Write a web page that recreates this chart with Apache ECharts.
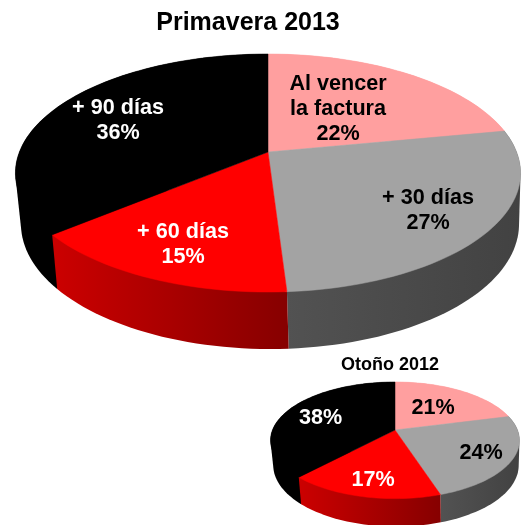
<!DOCTYPE html>
<html>
<head>
<meta charset="utf-8">
<script src="https://cdn.jsdelivr.net/npm/echarts@6/dist/echarts.min.js"></script>
<style>
	html, body { margin: 0; padding: 0; background: #fff; }
	#chart { width: 524px; height: 525px; }
</style>
</head>
<body>
<div id="chart"></div>
<script>
// slices run clockwise from 12 o'clock
const categories = [ 'Al vencer\nla factura', '+ 30 días', '+ 60 días', '+ 90 días' ];
const primavera2013 = [ 22, 27, 15, 36 ];
const otono2012 = [ 21, 24, 17, 38 ];

const topColors = [ '#ff9f9f', '#a3a3a3', '#ff0000', '#000000' ];
const wallColors = [ [ '#ff9f9f', '#ff9f9f' ], [ '#525252', '#424242' ], [ '#cc0000', '#860000' ], [ '#000000', '#000000' ] ];
const textColors = [ '#000000', '#000000', '#ffffff', '#ffffff' ];

const FONT = '"Liberation Sans", Arial, sans-serif';
const TILT = 0.1765; // perspective of the pie disc

const bigPie = {
	cx: 268, cy: 152, rx: 248.6, ry: 115.3, scale: 1,
	labelAt: [ [ 338, 109 ], [ 428, 211 ], [ 183, 245 ], [ 118, 121 ] ]
};
const smallPie = {
	cx: 395, cy: 430, rx: 122.5, ry: 56.5, scale: 0.49,
	labelAt: [ [ 433, 408 ], [ 481, 453 ], [ 373, 480 ], [ 320.5, 418 ] ]
};

// point on the rim, share in percent; lower = true gives the bottom edge of the wall
function rim( pie, share, lower ) {
	const a = share / 100 * Math.PI * 2;
	const s = 1 / ( 1 + TILT * Math.cos( a ) );
	const fx = lower ? 0.986 : 1;
	const fy = lower ? 1.05 : 1;
	const shift = lower ? 2 * pie.scale : 0;
	const drop = lower ? 50 * pie.scale : 0;
	return [
		pie.cx + shift + pie.rx * fx * Math.sin( a ) * s,
		pie.cy + drop - pie.ry * fy * Math.cos( a ) * s
	];
}

function arc( pie, from, to, lower ) {
	const pts = [];
	const steps = Math.ceil( ( to - from ) * 2 );
	for ( let i = 0; i <= steps; i++ ) {
		pts.push( rim( pie, from + ( to - from ) * i / steps, lower ) );
	}
	return pts;
}

// the wall is the sweep from top rim to bottom rim, so its outline has the straight sides
function hull( points ) {
	const sorted = points.slice().sort( ( a, b ) => a[0] - b[0] || a[1] - b[1] );
	const cross = ( o, a, b ) => ( a[0] - o[0] ) * ( b[1] - o[1] ) - ( a[1] - o[1] ) * ( b[0] - o[0] );
	const half = list => {
		const out = [];
		for ( const p of list ) {
			while ( out.length > 1 && cross( out[out.length - 2], out[out.length - 1], p ) <= 0 ) {
				out.pop();
			}
			out.push( p );
		}
		out.pop();
		return out;
	};
	return half( sorted ).concat( half( sorted.slice().reverse() ) );
}

function pieSeries( name, values, pie, labels ) {
	return {
		name,
		type: 'custom',
		coordinateSystem: 'none',
		silent: true,
		data: values,
		renderItem( params, api ) {
			const i = params.dataIndex;
			const value = api.value( 0 );
			let from = 0;
			for ( let j = 0; j < i; j++ ) {
				from += values[j];
			}
			const to = from + value;
			const text = labels ? labels[i] + '\n' + value + '%' : value + '%';
			return {
				type: 'group',
				children: [
					{
						type: 'polygon',
						// the last slice wraps round the back, its wall goes under the others
						z2: i === values.length - 1 ? 0 : 1,
						shape: { points: hull( arc( pie, from, to, false ).concat( arc( pie, from, to, true ) ) ) },
						style: {
							fill: new echarts.graphic.LinearGradient( 0, 0, 1, 0, [
								{ offset: 0, color: wallColors[i][0] },
								{ offset: 1, color: wallColors[i][1] }
							] )
						}
					},
					{
						type: 'polygon',
						z2: 2,
						shape: { points: [ [ pie.cx, pie.cy ] ].concat( arc( pie, from, to, false ) ) },
						style: { fill: topColors[i], stroke: topColors[i], lineWidth: 0.5 }
					},
					{
						type: 'text',
						z2: 3,
						style: {
							text,
							x: pie.labelAt[i][0],
							y: pie.labelAt[i][1],
							fill: textColors[i],
							font: 'bold 21.6px ' + FONT,
							lineHeight: 25,
							align: 'center',
							verticalAlign: 'middle'
						}
					}
				]
			};
		}
	};
}

const myChart = echarts.init( document.getElementById( 'chart' ), null, { renderer: 'canvas' } );
myChart.setOption( {
	animation: false,
	backgroundColor: '#ffffff',
	title: [
		{
			text: 'Primavera 2013',
			left: 248, top: 23, padding: 0, textAlign: 'center', textVerticalAlign: 'middle',
			textStyle: { fontFamily: FONT, fontWeight: 'bold', fontSize: 25, color: '#000000' }
		},
		{
			text: 'Otoño 2012',
			left: 390, top: 365, padding: 0, textAlign: 'center', textVerticalAlign: 'middle',
			textStyle: { fontFamily: FONT, fontWeight: 'bold', fontSize: 18, color: '#000000' }
		}
	],
	series: [
		pieSeries( 'Primavera 2013', primavera2013, bigPie, categories ),
		pieSeries( 'Otoño 2012', otono2012, smallPie, null )
	]
} );
</script>
</body>
</html>
